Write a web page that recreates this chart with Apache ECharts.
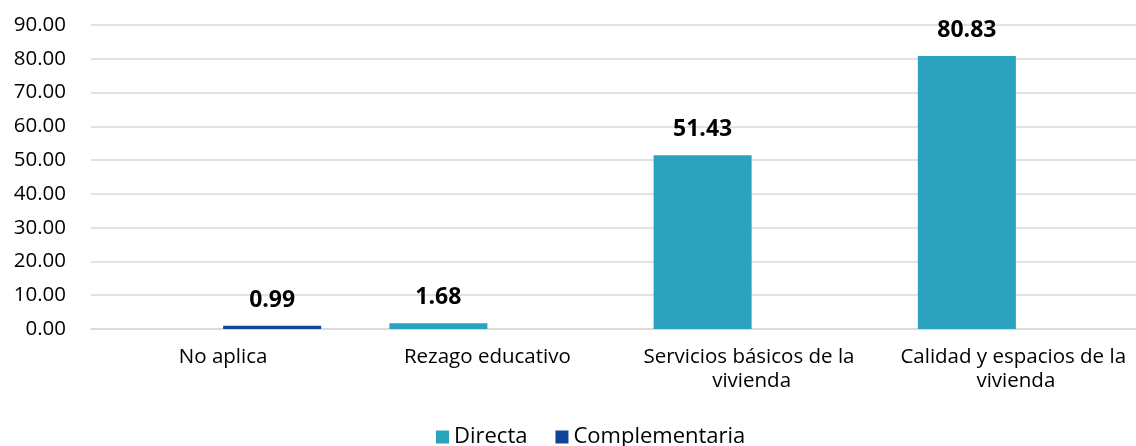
<!DOCTYPE html>
<html><head><meta charset="utf-8">
<script src="https://cdn.jsdelivr.net/npm/echarts@6/dist/echarts.min.js"></script>
<style>html,body{margin:0;padding:0;background:#fff;overflow:hidden;width:1136px;height:446px}#c{width:1160px;height:446px}</style>
</head><body><div id="c"></div>
<script>
const categories = ["No aplica", "Rezago educativo", "Servicios básicos de la vivienda", "Calidad y espacios de la vivienda"];
const directa = [null, 1.68, 51.43, 80.83];
const complementaria = [0.99, null, null, null];
const yTicks = {min: 0, max: 90, interval: 10};
const FONT = "Open Sans";
const chart = echarts.init(document.getElementById('c'));
const lbl = {show: true, position: 'top', distance: 14, fontFamily: FONT, fontWeight: 'bold', fontSize: 23, color: '#000',
  formatter: p => p.value == null ? '' : Number(p.value).toFixed(2)};
chart.setOption({
  animation: false,
  textStyle: {fontFamily: FONT},
  grid: {left: 91, top: 25, width: 1057, height: 304, containLabel: false},
  legend: {top: 421, left: 431, itemWidth: 13, itemHeight: 13, itemGap: 28, itemTextGap: 5, icon: 'rect',
    textStyle: {fontFamily: FONT, fontSize: 22, color: '#000'}},
  xAxis: {type: 'category', data: categories,
    axisLine: {lineStyle: {color: '#d9d9d9', width: 1.5}}, axisTick: {show: false},
    axisLabel: {fontFamily: FONT, fontSize: 20.5, color: '#000', margin: 16, width: 250, overflow: 'break', lineHeight: 24, interval: 0}},
  yAxis: {type: 'value', min: yTicks.min, max: yTicks.max, interval: yTicks.interval,
    axisLine: {show: false}, axisTick: {show: false},
    splitLine: {lineStyle: {color: '#d9d9d9', width: 1.5}},
    axisLabel: {fontFamily: FONT, fontSize: 20.5, color: '#000', margin: 25, formatter: v => v.toFixed(2)}},
  series: [
    {name: 'Directa', type: 'bar', data: directa, itemStyle: {color: '#2ba3bf'}, barGap: '0%', barCategoryGap: '25.8%', label: lbl},
    {name: 'Complementaria', type: 'bar', data: complementaria, itemStyle: {color: '#0e4597'}, label: lbl}
  ]
});
</script></body></html>
